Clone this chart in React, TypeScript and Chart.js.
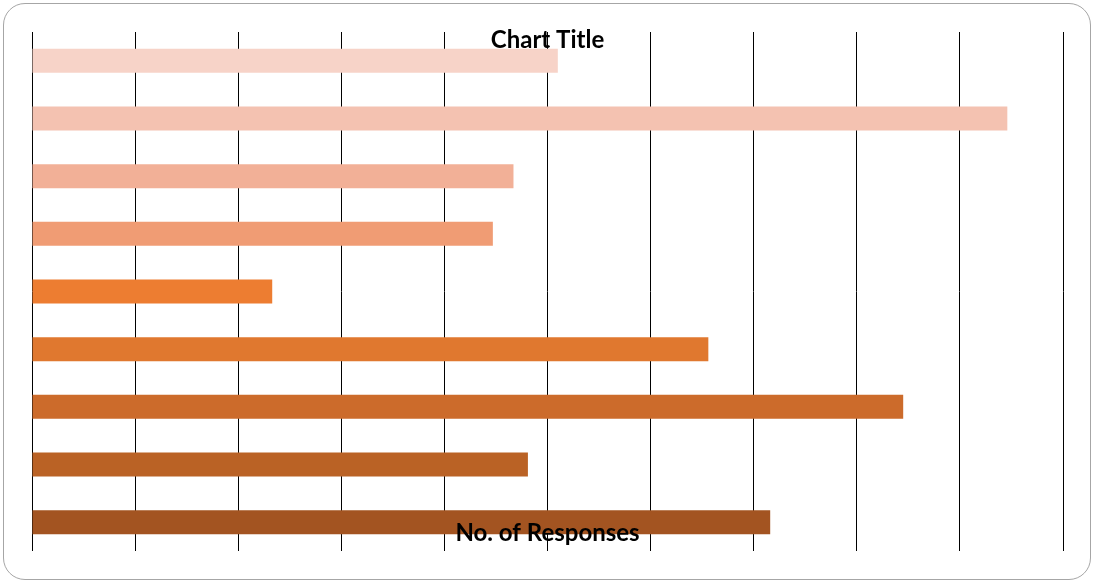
import React, { useEffect, useRef } from "react";
import { Chart, registerables } from "chart.js";

Chart.register(...registerables);

const categories = ["1", "2", "3", "4", "5", "6", "7", "8", "9"];
const responses = [51, 94.6, 46.7, 44.7, 23.3, 65.6, 84.5, 48.1, 71.6];
const barColors = [
  "#F7D3C8",
  "#F4C2B1",
  "#F2B097",
  "#F09C74",
  "#ED7D31",
  "#E0782F",
  "#CC6B2B",
  "#BA6225",
  "#A35421",
];
const titleText = "Chart Title";
const axisTitleText = "No. of Responses";

const textPlugin = {
  id: "overlayText",
  afterDraw(chart: any) {
    const { ctx, chartArea } = chart;
    const cx = (chartArea.left + chartArea.right) / 2;
    ctx.save();
    ctx.fillStyle = "#000";
    ctx.textAlign = "center";
    ctx.textBaseline = "middle";
    ctx.font = "bold 24px Lato";
    ctx.fillText(titleText, cx, chartArea.top + 8);
    ctx.fillText(axisTitleText, cx, chartArea.bottom - 18);
    ctx.restore();
  },
};

export default function App() {
  const ref = useRef<HTMLCanvasElement>(null);
  useEffect(() => {
    if (!ref.current) return;
    const chart = new Chart(ref.current, {
      type: "bar",
      data: {
        labels: categories,
        datasets: [
          {
            label: axisTitleText,
            data: responses,
            backgroundColor: barColors,
            borderWidth: 0,
            barPercentage: 0.415,
            categoryPercentage: 1,
          },
        ],
      },
      options: {
        indexAxis: "y",
        animation: false,
        responsive: false,
        maintainAspectRatio: false,
        layout: { padding: { left: 32, right: 31, top: 32, bottom: 31 } },
        plugins: {
          legend: { display: false },
          title: { display: false },
          tooltip: { enabled: false },
        },
        scales: {
          x: {
            min: 0,
            max: 100,
            ticks: { display: false, stepSize: 10 },
            grid: { color: "#000", lineWidth: 1, drawTicks: false },
            border: { display: false },
          },
          y: {
            display: false,
          },
        },
      },
      plugins: [textPlugin],
    });
    return () => chart.destroy();
  }, []);
  return (
    <div style={{ position: "fixed", left: 0, top: 0, width: 1094, height: 582, background: "#fff" }}>
      <div
        style={{
          position: "absolute",
          left: 3,
          top: 3,
          width: 1086,
          height: 575,
          border: "1px solid #a6a6a6",
          borderRadius: 22,
        }}
      />
      <canvas
        ref={ref}
        width={1094}
        height={582}
        style={{ position: "absolute", left: 0, top: 0, width: 1094, height: 582 }}
      />
    </div>
  );
}
